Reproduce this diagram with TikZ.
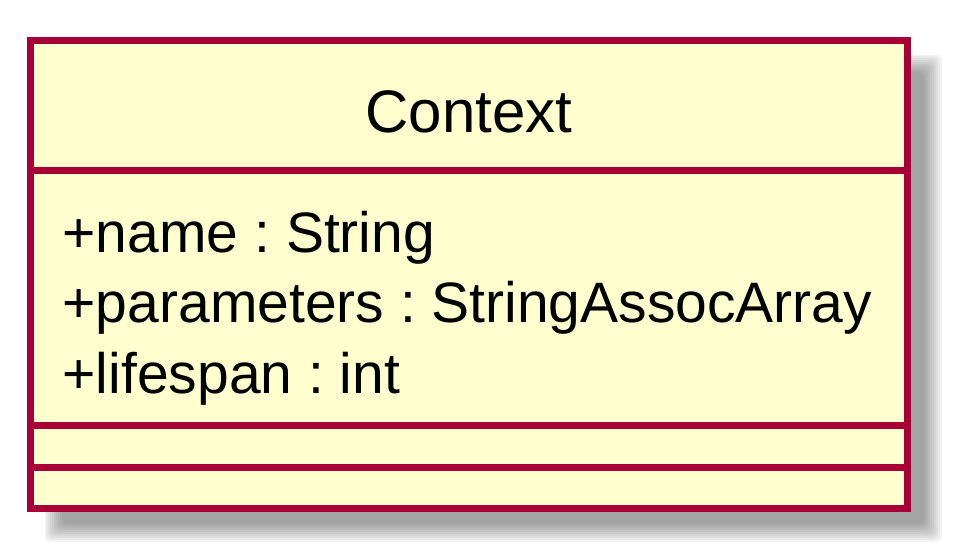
\documentclass[tikz,border=0pt]{standalone}
\usepackage{fontspec}
\setmainfont{Liberation Sans}
\definecolor{umlborder}{HTML}{A80036}
\definecolor{umlfill}{HTML}{FEFECE}
\tikzset{
  classbox/.style={draw=umlborder, fill=umlfill, line width=7pt},
  sepline/.style={draw=umlborder, line width=7pt},
  shadowlayer/.style={fill=black, fill opacity=0.045, draw=none},
  attr/.style={anchor=base west, inner sep=0pt, font=\frenchspacing\fontsize{57}{68}\selectfont},
  title/.style={anchor=base, inner sep=0pt, font=\fontsize{60}{72}\selectfont}
}
\begin{document}
\begin{tikzpicture}[x=1pt,y=-1pt]
\useasboundingbox (0,0) rectangle (958,559);
% shadow
\begin{scope}
\clip (45,56) rectangle (958,559);
\foreach \d in {-9,-7,...,9} {
  \fill[shadowlayer, rounded corners=5pt] (53-\d,63-\d) rectangle (933+\d,533+\d);
}
\end{scope}
% box
\path[classbox] (30.5,41) rectangle (907,508);
\coordinate (L1) at (30.5,170.5);
\coordinate (R1) at (907,170.5);
\coordinate (L2) at (30.5,425.5);
\coordinate (R2) at (907,425.5);
\coordinate (L3) at (30.5,467);
\coordinate (R3) at (907,467);
\draw[sepline] (L1) -- (R1);
\draw[sepline] (L2) -- (R2);
\draw[sepline] (L3) -- (R3);
\node[title] (title) at (469,132) {Context};
\node[attr] (a1) at (62.5,252) {+name : String};
\node[attr] (a2) at (62.5,322.5) {+parameters : StringAssocArray};
\node[attr] (a3) at (62.5,393) {+lifespan : int};
\end{tikzpicture}
\end{document}
